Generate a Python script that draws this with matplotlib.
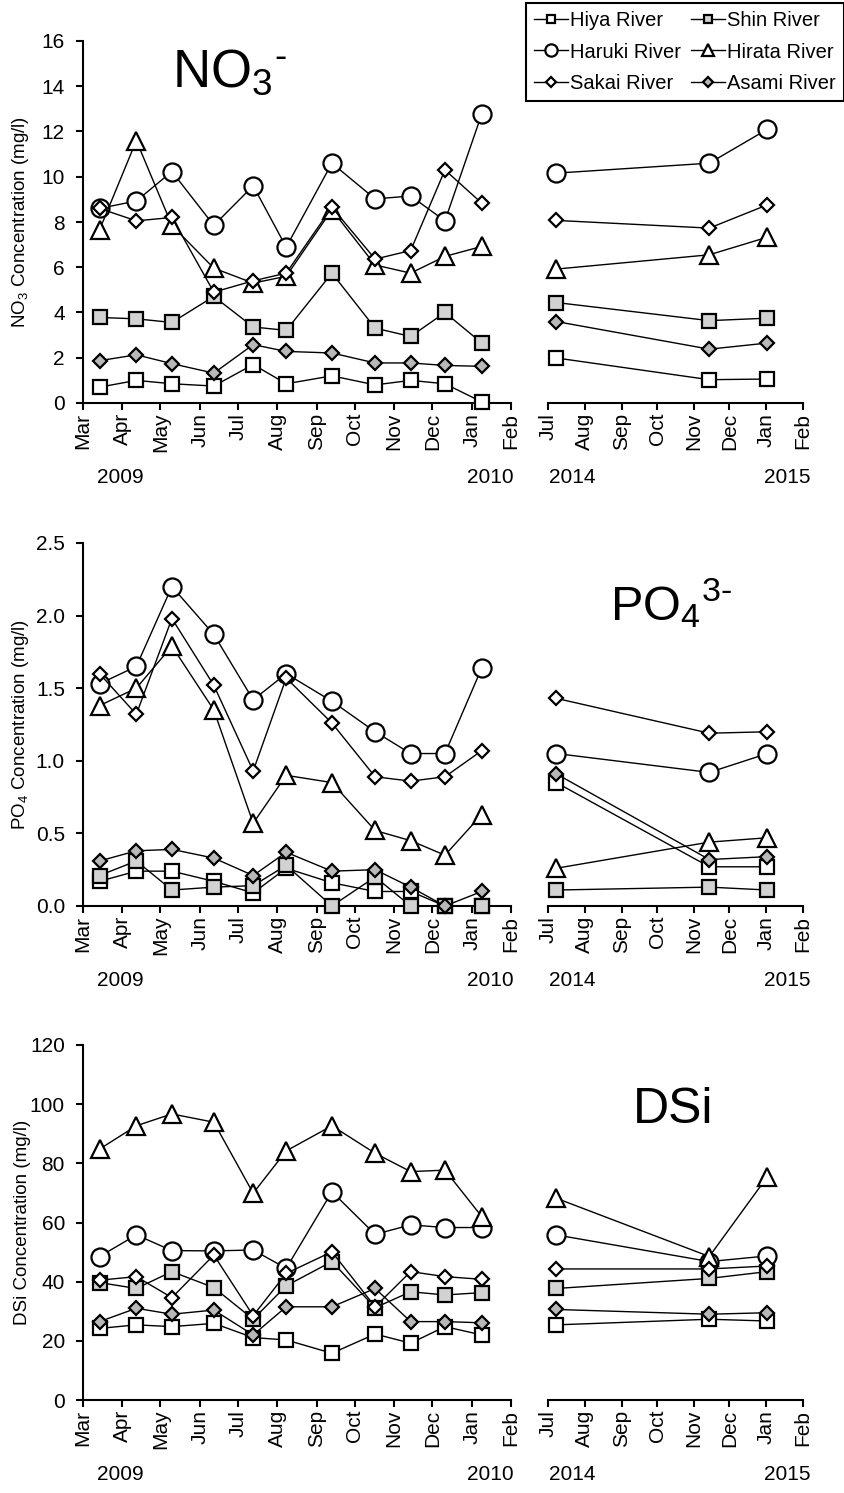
import datetime as dt
import matplotlib.pyplot as plt
import matplotlib.dates as mdates

plt.rcParams['font.family'] = ['Liberation Sans', 'DejaVu Sans']
plt.rcParams['mathtext.fontset'] = 'custom'
plt.rcParams['mathtext.rm'] = 'Liberation Sans'
plt.rcParams['mathtext.it'] = 'Liberation Sans'
plt.rcParams['mathtext.bf'] = 'Liberation Sans:bold'

# sampling dates
dates_0910 = ['2009-03-14', '2009-04-12', '2009-05-10', '2009-06-12', '2009-07-13', '2009-08-08',
              '2009-09-13', '2009-10-17', '2009-11-14', '2009-12-11', '2010-01-09']
dates_1415 = ['2014-07-08', '2014-11-14', '2015-01-02']

rivers = ['Hiya River', 'Shin River', 'Haruki River', 'Hirata River', 'Sakai River', 'Asami River']

# NO3 (mg/l), 2009-2010 then 2014-2015
no3_hiya = [0.7, 1.0, 0.85, 0.75, 1.7, 0.85, 1.2, 0.8, 1.0, 0.85, 0.05]
no3_shin = [3.78, 3.72, 3.56, 4.71, 3.36, 3.21, 5.74, 3.31, 2.94, 4.0, 2.65]
no3_haruki = [8.6, 8.93, 10.23, 7.85, 9.6, 6.89, 10.6, 9.02, 9.15, 8.05, 12.78]
no3_hirata = [7.65, 11.6, 7.85, 5.96, 5.3, 5.6, 8.54, 6.1, 5.74, 6.48, 6.92]
no3_sakai = [8.6, 8.05, 8.2, 4.9, 5.4, 5.74, 8.65, 6.36, 6.74, 10.3, 8.83]
no3_asami = [1.87, 2.13, 1.74, 1.32, 2.58, 2.28, 2.21, 1.77, 1.77, 1.66, 1.62]
no3_hiya_b = [1.99, 1.03, 1.06]
no3_shin_b = [4.44, 3.64, 3.75]
no3_haruki_b = [10.16, 10.6, 12.1]
no3_hirata_b = [5.92, 6.55, 7.33]
no3_sakai_b = [8.07, 7.73, 8.76]
no3_asami_b = [3.6, 2.38, 2.65]

# PO4 (mg/l)
po4_hiya = [0.17, 0.24, 0.24, 0.17, 0.09, 0.26, 0.16, 0.1, 0.1, 0.0, 0.0]
po4_shin = [0.21, 0.31, 0.11, 0.13, 0.14, 0.28, 0.0, 0.2, 0.0, 0.0, 0.0]
po4_haruki = [1.53, 1.65, 2.2, 1.87, 1.42, 1.6, 1.41, 1.2, 1.05, 1.05, 1.64]
po4_hirata = [1.38, 1.5, 1.79, 1.35, 0.57, 0.9, 0.85, 0.52, 0.45, 0.35, 0.63]
po4_sakai = [1.6, 1.32, 1.98, 1.52, 0.93, 1.57, 1.26, 0.89, 0.86, 0.89, 1.07]
po4_asami = [0.31, 0.38, 0.39, 0.33, 0.21, 0.37, 0.24, 0.25, 0.13, 0.0, 0.1]
po4_hiya_b = [0.85, 0.27, 0.27]
po4_shin_b = [0.11, 0.13, 0.11]
po4_haruki_b = [1.05, 0.92, 1.05]
po4_hirata_b = [0.26, 0.44, 0.47]
po4_sakai_b = [1.43, 1.19, 1.2]
po4_asami_b = [0.91, 0.32, 0.34]

# DSi (mg/l)
dsi_hiya = [24.2, 25.4, 24.8, 25.9, 21.1, 20.3, 15.8, 22.3, 19.2, 24.8, 22.0]
dsi_shin = [39.7, 37.7, 43.4, 38.0, 27.3, 38.6, 46.8, 31.2, 36.6, 35.5, 36.3]
dsi_haruki = [48.5, 55.8, 50.5, 50.4, 50.7, 44.5, 70.4, 56.0, 59.2, 58.3, 58.3]
dsi_hirata = [84.8, 92.7, 96.7, 93.9, 69.9, 84.2, 92.7, 83.4, 77.2, 77.7, 62.0]
dsi_sakai = [40.5, 41.7, 34.6, 49.0, 28.5, 42.8, 50.1, 31.5, 43.4, 41.7, 40.8]
dsi_asami = [26.5, 31.0, 29.0, 30.4, 22.0, 31.5, 31.5, 37.7, 26.5, 26.5, 26.1]
dsi_hiya_b = [25.4, 27.3, 26.7]
dsi_shin_b = [37.7, 41.1, 43.4]
dsi_haruki_b = [55.8, 46.8, 48.7]
dsi_hirata_b = [68.2, 48.5, 75.5]
dsi_sakai_b = [44.3, 44.3, 45.3]
dsi_asami_b = [30.6, 29.0, 29.5]

# marker styles per river
markers = ['s', 's', 'o', '^', 'D', 'D']
fills = ['white', '#d2d2d2', 'white', 'white', 'white', '#b8b8b8']
msizes = [9.5, 9.5, 13, 13, 7.5, 7.5]

W, H = 845, 1493
fig = plt.figure(figsize=(W / 100, H / 100), dpi=100)

def px(x, y):
    return x / W, 1 - y / H

rows = [
    ([no3_hiya, no3_shin, no3_haruki, no3_hirata, no3_sakai, no3_asami],
     [no3_hiya_b, no3_shin_b, no3_haruki_b, no3_hirata_b, no3_sakai_b, no3_asami_b],
     41, 403, (0, 16), list(range(0, 17, 2)), [str(v) for v in range(0, 17, 2)],
     r'NO$_3$ Concentration (mg/l)'),
    ([po4_hiya, po4_shin, po4_haruki, po4_hirata, po4_sakai, po4_asami],
     [po4_hiya_b, po4_shin_b, po4_haruki_b, po4_hirata_b, po4_sakai_b, po4_asami_b],
     543, 906, (0, 2.5), [0, 0.5, 1.0, 1.5, 2.0, 2.5], ['0.0', '0.5', '1.0', '1.5', '2.0', '2.5'],
     r'PO$_4$ Concentration (mg/l)'),
    ([dsi_hiya, dsi_shin, dsi_haruki, dsi_hirata, dsi_sakai, dsi_asami],
     [dsi_hiya_b, dsi_shin_b, dsi_haruki_b, dsi_hirata_b, dsi_sakai_b, dsi_asami_b],
     1045, 1400, (0, 120), list(range(0, 121, 20)), [str(v) for v in range(0, 121, 20)],
     'DSi Concentration (mg/l)'),
]

d1 = [dt.datetime.strptime(d, '%Y-%m-%d') for d in dates_0910]
d2 = [dt.datetime.strptime(d, '%Y-%m-%d') for d in dates_1415]
handles = []

for r, (vals_a, vals_b, top, bot, ylim, yt, ytl, ylab) in enumerate(rows):
    b = 1 - bot / H
    h = (bot - top) / H
    ax1 = fig.add_axes([83 / W, b, 428 / W, h])
    ax2 = fig.add_axes([548 / W, b, 255 / W, h])
    for i in range(6):
        kw = dict(color='black', lw=1.0, marker=markers[i], ms=msizes[i], mfc=fills[i],
                  mec='black', mew=1.6, clip_on=False, zorder=3)
        ln, = ax1.plot(d1, vals_a[i], label=rivers[i], **kw)
        ax2.plot(d2, vals_b[i], **kw)
        if r == 0:
            handles.append(ln)
    for ax, lo, hi in [(ax1, dt.datetime(2009, 3, 1), dt.datetime(2010, 2, 1)),
                       (ax2, dt.datetime(2014, 7, 1), dt.datetime(2015, 2, 1))]:
        ax.set_xlim(lo, hi)
        ax.set_ylim(*ylim)
        ax.xaxis.set_major_locator(mdates.MonthLocator())
        ax.xaxis.set_major_formatter(mdates.DateFormatter('%b'))
        ax.tick_params(axis='x', labelrotation=90, labelsize=15, direction='out',
                       length=5, width=1.5, pad=2)
        ax.tick_params(axis='y', labelsize=15, direction='out', length=5, width=1.5, pad=8)
        for s in ['top', 'right']:
            ax.spines[s].set_visible(False)
        ax.spines['bottom'].set_linewidth(1.5)
        ax.spines['left'].set_linewidth(1.5)
    ax1.set_yticks(yt)
    ax1.set_yticklabels(ytl)
    ax1.set_ylabel(ylab, fontsize=13.5)
    ax1.yaxis.set_label_coords((31 - 83) / 428, 0.5)
    ax2.spines['left'].set_visible(False)
    ax2.set_yticks([])
    # year labels
    yy = bot + 74
    fig.text(*px(120, yy), '2009', ha='center', va='center', fontsize=15)
    fig.text(*px(490, yy), '2010', ha='center', va='center', fontsize=15)
    fig.text(*px(572, yy), '2014', ha='center', va='center', fontsize=15)
    fig.text(*px(787, yy), '2015', ha='center', va='center', fontsize=15)

fig.text(*px(172, 87), r'NO$_3$$^{\text{-}}$', fontsize=38, ha='left', va='baseline')
fig.text(*px(610, 620), r'PO$_4$$^{\text{3-}}$', fontsize=35, ha='left', va='baseline')
fig.text(*px(633, 1123), 'DSi', fontsize=36, ha='left', va='baseline')

order = [0, 2, 4, 1, 3, 5]
leg = fig.legend([handles[i] for i in order], [rivers[i] for i in order], ncol=2,
                 loc='upper right', bbox_to_anchor=px(844, 3), fontsize=14.5,
                 markerscale=0.68, handlelength=1.7, handletextpad=0.1,
                 columnspacing=0.5, labelspacing=0.62, borderpad=0.4,
                 fancybox=False, framealpha=1, edgecolor='black', borderaxespad=0)
leg.get_frame().set_linewidth(1.5)

fig.savefig('out.png', dpi=100)
